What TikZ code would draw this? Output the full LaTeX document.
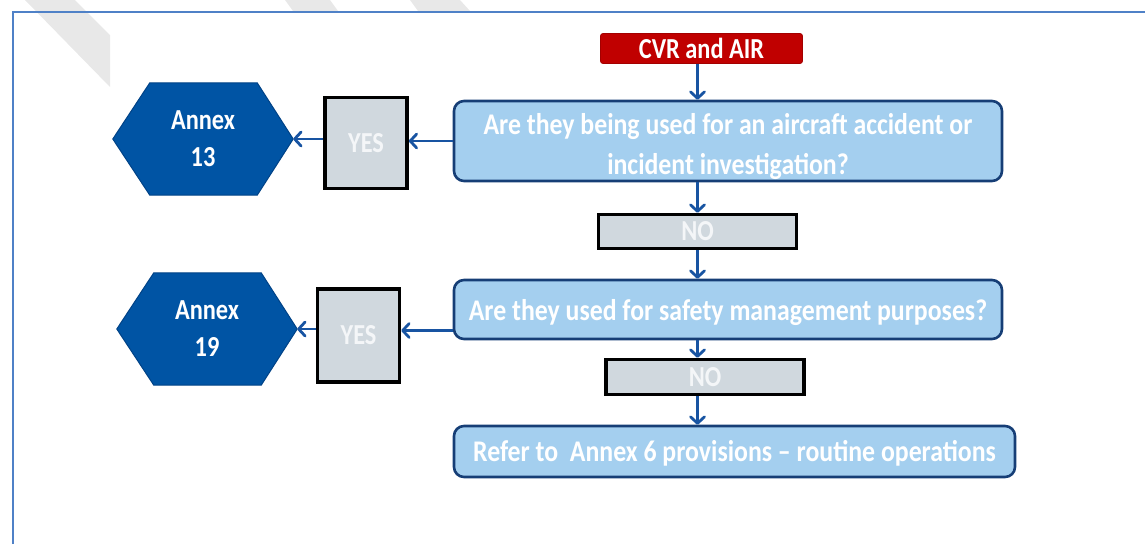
\documentclass[tikz,border=0pt]{standalone}
\usepackage{fontspec}
\newfontfamily\lblfont{Carlito}[FakeStretch=0.84]
\newfontfamily\qfont{Carlito}[FakeStretch=0.86]
\usetikzlibrary{arrows.meta,backgrounds}

\definecolor{frameblue}{RGB}{79,129,199}
\definecolor{stripegrey}{RGB}{232,232,232}
\definecolor{cvrred}{RGB}{192,0,0}
\definecolor{qfill}{RGB}{164,207,239}
\definecolor{qborder}{RGB}{22,62,118}
\definecolor{hexfill}{RGB}{0,84,164}
\definecolor{hexborder}{RGB}{0,66,134}
\definecolor{greyfill}{RGB}{208,216,222}
\definecolor{greytext}{RGB}{244,246,248}
\definecolor{arrowblue}{RGB}{24,84,162}

% invisible strut that lowers a centred text block a little
\newcommand\lowerby[1]{\rule{0pt}{#1}}

\begin{document}
\begin{tikzpicture}[x=1pt,y=-1pt,
  lbl/.style={font=\lblfont\bfseries\fontsize{29}{37}\selectfont},
  qlbl/.style={font=\qfont\bfseries\fontsize{30}{39}\selectfont},
  cvrbox/.style={lbl, fill=cvrred, draw=cvrred!85!black, line width=0.8pt,
    rounded corners=2.5pt, text=white, inner sep=0pt,
    minimum width=202pt, minimum height=30pt},
  qbox/.style={qlbl, fill=qfill, draw=qborder, line width=2.6pt,
    rounded corners=10pt, text=white, align=center, inner sep=0pt},
  greybox/.style={lbl, fill=greyfill, draw=black, line width=3.6pt,
    text=greytext, inner sep=0pt},
  hexnode/.style={lbl, text=white, align=center, inner sep=0pt,
    minimum width=180pt, minimum height=112pt},
  hexshape/.style={fill=hexfill, draw=hexborder, line width=1pt},
  flow/.style={draw=arrowblue, line width=2.4pt,
    -{Straight Barb[length=6.5pt,width=14pt,line width=2.8pt,round]}},
  stripe/.style={fill=stripegrey},
  frame/.style={draw=frameblue, line width=2pt}
]
\useasboundingbox (0,0) rectangle (1145,544);

% light diagonal bands in the upper left
\fill[stripe] (25,0) -- (75,0) -- (110,35) -- (110,87) -- cycle;
\fill[stripe] (285,0) -- (330,0) -- (338,11) -- (293,11) -- cycle;
\fill[stripe] (410,0) -- (460,0) -- (470,11) -- (418,11) -- cycle;

% open frame: left and top edges
\draw[frame] (13,544) -- (13,11.5) -- (1145,11.5);

% main column
\node[cvrbox] (cvr) at (701.5,48.5) {CVR and AIR};
\node[qbox, minimum width=548pt, minimum height=80pt] (q1) at (728,141)
  {\lowerby{32pt}Are they being used for an aircraft accident or\\[1pt]incident investigation?};
\node[greybox, minimum width=198pt, minimum height=34pt] (no1) at (697.5,231.5) {NO};
\node[qbox, minimum width=548pt, minimum height=59pt] (q2) at (728,309.5)
  {\lowerby{27pt}Are they used for safety management purposes?};
\node[greybox, minimum width=198pt, minimum height=35pt] (no2) at (705,377) {NO};
\node[qbox, minimum width=561pt, minimum height=51pt] (q3) at (734.5,451.5)
  {\lowerby{25pt}Refer to\ \ Annex 6 provisions – routine operations};

% YES boxes
\node[greybox, minimum width=82pt, minimum height=91pt] (yes1) at (366,143) {YES};
\node[greybox, minimum width=82pt, minimum height=93pt] (yes2) at (358.5,335.5) {YES};

% hexagonal Annex boxes
\node[hexnode] (hex1) at (203,139) {Annex\\13};
\node[hexnode] (hex2) at (207,329) {Annex\\19};
\begin{pgfonlayer}{background}
  \foreach \h in {hex1,hex2}{
    \draw[hexshape] (\h.west) -- ([xshift=37pt]\h.north west)
      -- ([xshift=-36pt]\h.north east) -- (\h.east)
      -- ([xshift=-36pt]\h.south east) -- ([xshift=37pt]\h.south west) -- cycle;
  }
\end{pgfonlayer}

% connectors
\draw[flow] (cvr.south -| no1) -- (q1.north -| no1);
\draw[flow] (q1.south -| no1) -- (no1.north);
\draw[flow] (no1.south) -- (q2.north -| no1);
\draw[flow] (q2.south -| no1) -- (no2.north -| no1);
\draw[flow] (no2.south -| no1) -- (q3.north -| no1);

\draw[flow] (q1.west) -- (q1.west -| yes1.east);
\draw[flow] (yes1.west |- hex1.east) -- (hex1.east);
\coordinate (q2out) at ([yshift=-21pt]q2.west);
\draw[flow] (q2out) -- (q2out -| yes2.east);
\draw[flow] (yes2.west |- hex2.east) -- (hex2.east);
\end{tikzpicture}
\end{document}
